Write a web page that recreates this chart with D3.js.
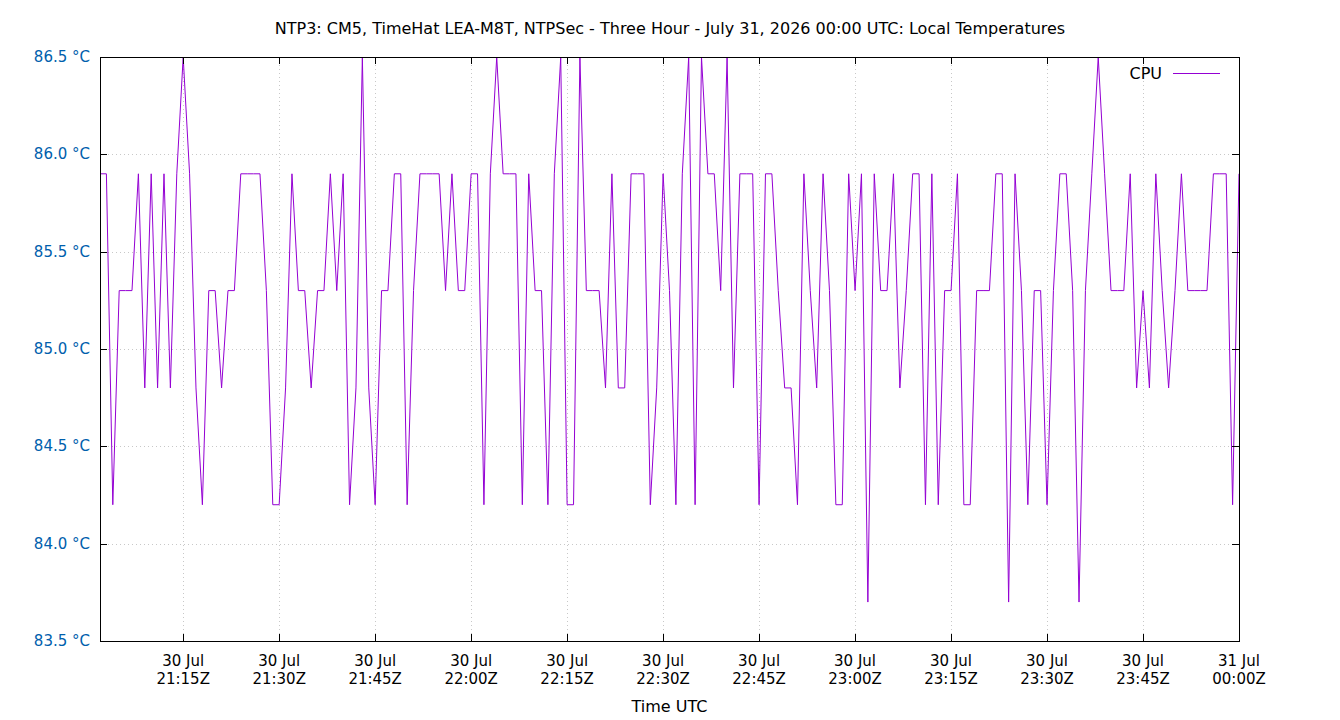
<!DOCTYPE html>
<html>
<head>
<meta charset="utf-8">
<script src="https://cdn.jsdelivr.net/npm/d3@7/dist/d3.min.js"></script>
<style>
  body { margin: 0; background: #fff; }
  text { font-family: "DejaVu Sans", sans-serif; }
</style>
</head>
<body>
<svg id="chart" width="1340" height="720"></svg>
<script>
// Data: one CPU reading per minute, 21:02Z to 00:00Z
const startTime = "2026-07-30T21:02:00Z";
const cpuTemps = [
  85.9, 85.9, 84.2, 85.3, 85.3, 85.3, 85.9, 84.8, 85.9, 84.8, 85.9, 84.8, 85.9,
  86.5, 85.9, 84.8, 84.2, 85.3, 85.3, 84.8, 85.3, 85.3, 85.9, 85.9, 85.9, 85.9,
  85.3, 84.2, 84.2, 84.8, 85.9, 85.3, 85.3, 84.8, 85.3, 85.3, 85.9, 85.3, 85.9,
  84.2, 84.8, 86.5, 84.8, 84.2, 85.3, 85.3, 85.9, 85.9, 84.2, 85.3, 85.9, 85.9,
  85.9, 85.9, 85.3, 85.9, 85.3, 85.3, 85.9, 85.9, 84.2, 85.9, 86.5, 85.9, 85.9,
  85.9, 84.2, 85.9, 85.3, 85.3, 84.2, 85.9, 86.5, 84.2, 84.2, 86.5, 85.3, 85.3,
  85.3, 84.8, 85.9, 84.8, 84.8, 85.9, 85.9, 85.9, 84.2, 84.8, 85.9, 85.3, 84.2,
  85.9, 86.5, 84.2, 86.5, 85.9, 85.9, 85.3, 86.5, 84.8, 85.9, 85.9, 85.9, 84.2,
  85.9, 85.9, 85.3, 84.8, 84.8, 84.2, 85.9, 85.3, 84.8, 85.9, 85.3, 84.2, 84.2,
  85.9, 85.3, 85.9, 83.7, 85.9, 85.3, 85.3, 85.9, 84.8, 85.3, 85.9, 85.9, 84.2,
  85.9, 84.2, 85.3, 85.3, 85.9, 84.2, 84.2, 85.3, 85.3, 85.3, 85.9, 85.9, 83.7,
  85.9, 85.3, 84.2, 85.3, 85.3, 84.2, 85.3, 85.9, 85.9, 85.3, 83.7, 85.3, 85.9,
  86.5, 85.9, 85.3, 85.3, 85.3, 85.9, 84.8, 85.3, 84.8, 85.9, 85.3, 84.8, 85.3,
  85.9, 85.3, 85.3, 85.3, 85.3, 85.9, 85.9, 85.9, 84.2, 85.9
];
const yTicks = [83.5, 84.0, 84.5, 85.0, 85.5, 86.0, 86.5];
const xTickTimes = [
  "2026-07-30T21:15:00Z", "2026-07-30T21:30:00Z", "2026-07-30T21:45:00Z",
  "2026-07-30T22:00:00Z", "2026-07-30T22:15:00Z", "2026-07-30T22:30:00Z",
  "2026-07-30T22:45:00Z", "2026-07-30T23:00:00Z", "2026-07-30T23:15:00Z",
  "2026-07-30T23:30:00Z", "2026-07-30T23:45:00Z", "2026-07-31T00:00:00Z"
];
const titleText = "NTP3: CM5, TimeHat LEA-M8T, NTPSec - Three Hour - July 31, 2026 00:00 UTC: Local Temperatures";

const svg = d3.select('#chart');
const margin = { left: 100, right: 101, top: 57, bottom: 79 };
const width = +svg.attr('width');
const height = +svg.attr('height');
const innerW = width - margin.left - margin.right;
const innerH = height - margin.top - margin.bottom;

const t0 = new Date(startTime);
const data = cpuTemps.map((v, i) => ({ t: d3.utcMinute.offset(t0, i), v }));

const x = d3.scaleUtc()
  .domain([t0, new Date(xTickTimes[xTickTimes.length - 1])])
  .range([margin.left, margin.left + innerW]);
const y = d3.scaleLinear()
  .domain([83.5, 86.5])
  .range([margin.top + innerH, margin.top]);

const xTicks = xTickTimes.map(s => new Date(s));
const blue = '#0060ad';
const purple = '#9400d3';

// Grid (dotted)
const grid = svg.append('g').attr('stroke', '#c8c8c8').attr('stroke-width', 1)
  .attr('stroke-dasharray', '1,3');
grid.selectAll('.gx').data(xTicks).enter().append('line')
  .attr('x1', d => Math.round(x(d)) + 0.5).attr('x2', d => Math.round(x(d)) + 0.5)
  .attr('y1', margin.top).attr('y2', margin.top + innerH);
grid.selectAll('.gy').data(yTicks).enter().append('line')
  .attr('x1', margin.left).attr('x2', margin.left + innerW)
  .attr('y1', d => Math.round(y(d)) + 0.5).attr('y2', d => Math.round(y(d)) + 0.5);

// Line
const line = d3.line().x(d => x(d.t)).y(d => y(d.v));
svg.append('path').datum(data)
  .attr('fill', 'none').attr('stroke', purple).attr('stroke-width', 1)
  .attr('d', line);

// Ticks (inward, mirrored)
const tickLen = 7;
const ticks = svg.append('g').attr('stroke', '#000').attr('stroke-width', 1);
xTicks.forEach(d => {
  const xx = Math.round(x(d)) + 0.5;
  ticks.append('line').attr('x1', xx).attr('x2', xx)
    .attr('y1', margin.top + innerH).attr('y2', margin.top + innerH - tickLen);
  ticks.append('line').attr('x1', xx).attr('x2', xx)
    .attr('y1', margin.top).attr('y2', margin.top + tickLen);
});
yTicks.forEach(d => {
  const yy = Math.round(y(d)) + 0.5;
  ticks.append('line').attr('x1', margin.left).attr('x2', margin.left + tickLen)
    .attr('y1', yy).attr('y2', yy);
  ticks.append('line').attr('x1', margin.left + innerW).attr('x2', margin.left + innerW - tickLen)
    .attr('y1', yy).attr('y2', yy);
});

// Border
svg.append('rect')
  .attr('x', margin.left + 0.5).attr('y', margin.top + 0.5)
  .attr('width', innerW).attr('height', innerH)
  .attr('fill', 'none').attr('stroke', '#000').attr('stroke-width', 1);

// Y labels
svg.append('g').selectAll('text').data(yTicks).enter().append('text')
  .attr('x', margin.left - 10).attr('y', d => y(d) + 5)
  .attr('text-anchor', 'end').attr('fill', blue).style('font-size', '15px')
  .text(d => d.toFixed(1) + ' °C');

// X labels (two lines)
const fmtDay = d3.utcFormat('%d %b');
const fmtTime = d3.utcFormat('%H:%MZ');
const xl = svg.append('g').selectAll('text').data(xTicks).enter().append('text')
  .attr('text-anchor', 'middle').style('font-size', '15px').attr('fill', '#000');
xl.append('tspan').attr('x', d => x(d)).attr('y', margin.top + innerH + 25).text(d => fmtDay(d));
xl.append('tspan').attr('x', d => x(d)).attr('y', margin.top + innerH + 43).text(d => fmtTime(d));

// Axis title
svg.append('text').attr('x', margin.left + innerW / 2).attr('y', 712)
  .attr('text-anchor', 'middle').style('font-size', '16px').text('Time UTC');

// Title
svg.append('text').attr('x', 670).attr('y', 34)
  .attr('text-anchor', 'middle').style('font-size', '16px').text(titleText);

// Legend
svg.append('text').attr('x', 1162).attr('y', 79)
  .attr('text-anchor', 'end').style('font-size', '16px').text('CPU');
svg.append('line').attr('x1', 1173).attr('x2', 1220).attr('y1', 73.5).attr('y2', 73.5)
  .attr('stroke', purple).attr('stroke-width', 1);
</script>
</body>
</html>
